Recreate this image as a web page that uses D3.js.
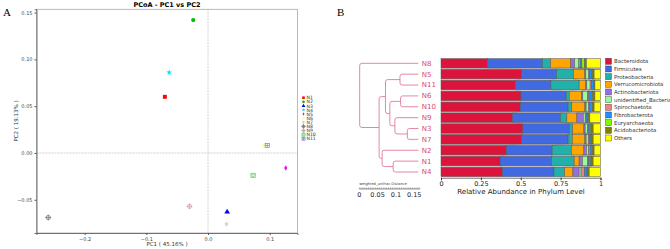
<!DOCTYPE html>
<html>
<head>
<meta charset="utf-8">
<script src="https://cdn.jsdelivr.net/npm/d3@7"></script>
<style>
  body { margin: 0; background: #fff; }
  text { font-family: "DejaVu Sans", sans-serif; }
</style>
</head>
<body>
<div id="chart"></div>
<script>
// ---- panel A data (PCoA) ----
const pcoaSamples = ["N1", "N2", "N3", "N4", "N5", "N6", "N7", "N8", "N9", "N10", "N11"];
const pc1 = [-0.070, -0.024, 0.031, -0.063, 0.126, 0.091, 0.030, -0.259, -0.030, 0.073, 0.096];
const pc2 = [0.060, 0.142, -0.063, 0.086, -0.016, 0.008, -0.076, -0.069, -0.057, -0.024, 0.008];
const pcoaColors = ["#ff0000", "#00c000", "#0000ff", "#00e5ee", "#ff00ff", "#ffff99", "#c8c8c8", "#555555", "#cd8c95", "#32cd32", "#6b6bd6"];
const xTicksA = [-0.2, -0.1, 0.0, 0.1];
const yTicksA = [-0.05, 0.00, 0.05, 0.10, 0.15];

// ---- panel B data (phylum abundance), rows in dendrogram order ----
const barSamples = ["N8", "N5", "N11", "N6", "N10", "N9", "N3", "N7", "N2", "N1", "N4"];
const phyla = ["Bacteroidota", "Firmicutes", "Proteobacteria", "Verrucomicrobiota", "Actinobacteriota",
  "unidentified_Bacteria", "Spirochaetota", "Fibrobacterota", "Euryarchaeota", "Acidobacteriota", "Others"];
const phylaColors = ["#dc143c", "#4169e1", "#20b2aa", "#ffa500", "#9370db", "#98fb98", "#f08080", "#1e90ff", "#7cfc00", "#808000", "#ffff00"];
const bacteroidota      = [0.290, 0.505, 0.466, 0.501, 0.497, 0.449, 0.513, 0.505, 0.409, 0.370, 0.385];
const firmicutes        = [0.345, 0.219, 0.223, 0.284, 0.300, 0.300, 0.292, 0.292, 0.288, 0.323, 0.323];
const proteobacteria    = [0.052, 0.107, 0.177, 0.019, 0.023, 0.040, 0.020, 0.026, 0.121, 0.142, 0.067];
const verrucomicrobiota = [0.127, 0.071, 0.042, 0.077, 0.082, 0.063, 0.071, 0.079, 0.078, 0.031, 0.052];
const actinobacteriota  = [0.024, 0.006, 0.006, 0.008, 0.008, 0.040, 0.008, 0.008, 0.016, 0.021, 0.039];
const unidentifiedBact  = [0.026, 0.018, 0.021, 0.030, 0.014, 0.012, 0.014, 0.013, 0.013, 0.032, 0.012];
const spirochaetota     = [0.009, 0.006, 0.008, 0.008, 0.006, 0.006, 0.006, 0.006, 0.010, 0.007, 0.022];
const fibrobacterota    = [0.010, 0.014, 0.012, 0.017, 0.012, 0.010, 0.014, 0.011, 0.009, 0.013, 0.016];
const euryarchaeota     = [0.017, 0.005, 0.004, 0.006, 0.006, 0.006, 0.006, 0.005, 0.005, 0.004, 0.004];
const acidobacteriota   = [0.012, 0.009, 0.006, 0.015, 0.012, 0.007, 0.010, 0.009, 0.011, 0.011, 0.009];
const others            = [0.088, 0.040, 0.035, 0.035, 0.040, 0.067, 0.046, 0.046, 0.040, 0.046, 0.071];
const phylaValues = [bacteroidota, firmicutes, proteobacteria, verrucomicrobiota, actinobacteriota,
  unidentifiedBact, spirochaetota, fibrobacterota, euryarchaeota, acidobacteriota, others];
const xTicksB = [0, 0.25, 0.5, 0.75, 1];

// dendrogram merges: [node, height, child1, child2]
const merges = [
  ["root", 0.160, "N8", "AB"],
  ["AB", 0.107, "A", "B"],
  ["A", 0.0896, "N5N11", "A2"],
  ["N5N11", 0.050, "N5", "N11"],
  ["A2", 0.0777, "N6N10", "N9g"],
  ["N6N10", 0.0485, "N6", "N10"],
  ["N9g", 0.064, "N9", "N3N7"],
  ["N3N7", 0.030, "N3", "N7"],
  ["B", 0.0987, "N2", "N1N4"],
  ["N1N4", 0.0686, "N1", "N4"]
];
const distTicks = [0, 0.05, 0.1, 0.15];

const svg = d3.select("#chart").append("svg")
  .attr("width", 670)
  .attr("height", 249)
  .style("background", "#fff");

// ================= Panel A =================
const xA = d3.scaleLinear().domain([-0.278, 0.145]).range([36.5, 297.5]);
const yA = d3.scaleLinear().domain([-0.0855, 0.1535]).range([233, 9.3]);

svg.append("text").attr("x", 3).attr("y", 16).text("A")
  .style("font-family", "'Liberation Serif', serif").style("font-size", "11px");

svg.append("rect")
  .attr("x", xA.range()[0]).attr("y", yA.range()[1])
  .attr("width", xA.range()[1] - xA.range()[0])
  .attr("height", yA.range()[0] - yA.range()[1])
  .attr("fill", "none").attr("stroke", "#aaa").attr("stroke-width", 0.8);

// dashed zero lines
svg.append("line")
  .attr("x1", xA(0)).attr("x2", xA(0)).attr("y1", yA.range()[1]).attr("y2", yA.range()[0])
  .attr("stroke", "#bbb").attr("stroke-width", 0.7).attr("stroke-dasharray", "2,1");
svg.append("line")
  .attr("x1", xA.range()[0]).attr("x2", xA.range()[1]).attr("y1", yA(0)).attr("y2", yA(0))
  .attr("stroke", "#bbb").attr("stroke-width", 0.7).attr("stroke-dasharray", "2,1");

const axA1 = svg.append("g")
  .attr("transform", `translate(0,${yA.range()[0]})`)
  .call(d3.axisBottom(xA).tickValues(xTicksA).tickFormat(d3.format(".1f")).tickSize(2).tickPadding(2));
const axA2 = svg.append("g")
  .attr("transform", `translate(${xA.range()[0]},0)`)
  .call(d3.axisLeft(yA).tickValues(yTicksA).tickFormat(d3.format(".2f")).tickSize(2).tickPadding(2));
[axA1, axA2].forEach(g => {
  g.select(".domain").attr("stroke", "#555").attr("stroke-width", 0.8);
  g.selectAll(".tick line").attr("stroke", "#555");
  g.selectAll(".tick text").style("font-size", "5px").attr("fill", "#444");
});

svg.append("text").attr("x", 167).attr("y", 7).attr("text-anchor", "middle")
  .style("font-size", "6.5px").style("font-weight", "bold").text("PCoA - PC1 vs PC2");
svg.append("text").attr("x", 167).attr("y", 246).attr("text-anchor", "middle")
  .style("font-size", "5.5px").attr("fill", "#333").text("PC1 ( 45.16% )");
svg.append("text").attr("transform", "translate(18,121) rotate(-90)").attr("text-anchor", "middle")
  .style("font-size", "5.5px").attr("fill", "#333").text("PC2 ( 19.13% )");

// marker drawing by sample index
function drawMarker(g, i, s) {
  const c = pcoaColors[i];
  const sym = (type, size) => d3.symbol().type(type).size(size)();
  if (i === 0) g.append("path").attr("d", sym(d3.symbolSquare, s * 1.1)).attr("fill", c);
  else if (i === 1) g.append("path").attr("d", sym(d3.symbolCircle, s)).attr("fill", c);
  else if (i === 2) g.append("path").attr("d", sym(d3.symbolTriangle, s)).attr("fill", c);
  else if (i === 3) g.append("path").attr("d", sym(d3.symbolStar, s * 0.8)).attr("fill", c);
  else if (i === 4) g.append("path").attr("d", sym(d3.symbolDiamond, s * 0.6)).attr("fill", c);
  else if (i === 5) g.append("path").attr("d", sym(d3.symbolSquare, s * 1.1)).attr("fill", c);
  else if (i === 6) g.append("path").attr("d", sym(d3.symbolAsterisk || d3.symbolCross, s))
    .attr("fill", "none").attr("stroke", c).attr("stroke-width", 0.8);
  else if (i === 7 || i === 8) {
    const r = Math.sqrt(s / Math.PI);
    g.append("circle").attr("r", r).attr("fill", "none").attr("stroke", c).attr("stroke-width", 0.6);
    g.append("path").attr("d", `M${-r - 0.8},0H${r + 0.8}M0,${-r - 0.8}V${r + 0.8}`).attr("stroke", c).attr("stroke-width", 0.6);
  } else if (i === 9) {
    const h = Math.sqrt(s) / 2 + 0.3;
    g.append("rect").attr("x", -h).attr("y", -h).attr("width", 2 * h).attr("height", 2 * h)
      .attr("fill", "none").attr("stroke", c).attr("stroke-width", 0.6);
    g.append("circle").attr("r", h * 0.6).attr("fill", "none").attr("stroke", c).attr("stroke-width", 0.6);
  } else {
    const h = Math.sqrt(s) / 2 + 0.3;
    g.append("rect").attr("x", -h).attr("y", -h).attr("width", 2 * h).attr("height", 2 * h)
      .attr("fill", "none").attr("stroke", c).attr("stroke-width", 0.6);
    g.append("path").attr("d", `M${-h},0H${h}M0,${-h}V${h}`).attr("stroke", c).attr("stroke-width", 0.6);
  }
}

pcoaSamples.forEach((name, i) => {
  const g = svg.append("g").attr("transform", `translate(${xA(pc1[i])},${yA(pc2[i])})`);
  drawMarker(g, i, 14);
});

// legend A
pcoaSamples.forEach((name, i) => {
  const ly = 97.7 + i * 4.1;
  const g = svg.append("g").attr("transform", `translate(303.5,${ly})`);
  drawMarker(g, i, 6);
  svg.append("text").attr("x", 306.5).attr("y", ly).attr("dy", "0.35em")
    .style("font-size", "4.6px").attr("fill", "#333").text(name);
});

// ================= Panel B =================
svg.append("text").attr("x", 337).attr("y", 16).text("B")
  .style("font-family", "'Liberation Serif', serif").style("font-size", "11px");

const xB = d3.scaleLinear().domain([0, 1]).range([441, 600.5]);
const yB = d3.scaleBand().domain(barSamples).range([58.3, 177]).paddingInner(0.14).paddingOuter(0.03);

// stacked segments per sample
const stacked = barSamples.map((s, si) => {
  let acc = 0;
  return phyla.map((p, pi) => {
    const v = phylaValues[pi][si];
    const seg = { sample: s, phylum: p, idx: pi, x0: acc, x1: acc + v };
    acc += v;
    return seg;
  });
});

// grey connectors between neighbouring bars
const bw = yB.bandwidth();
for (let si = 0; si < barSamples.length - 1; si++) {
  const yTop = yB(barSamples[si]) + bw;
  const yBot = yB(barSamples[si + 1]);
  stacked[si].forEach((seg, pi) => {
    const nxt = stacked[si + 1][pi];
    svg.append("path")
      .attr("d", `M${xB(seg.x0)},${yTop}L${xB(seg.x1)},${yTop}L${xB(nxt.x1)},${yBot}L${xB(nxt.x0)},${yBot}Z`)
      .attr("fill", "#d4d4d4").attr("stroke", "#8a8a8a").attr("stroke-width", 0.4);
  });
}

svg.selectAll("g.barrow")
  .data(stacked)
  .join("g")
    .attr("class", "barrow")
  .selectAll("rect")
  .data(d => d)
  .join("rect")
    .attr("x", d => xB(d.x0))
    .attr("y", d => yB(d.sample))
    .attr("width", d => xB(d.x1) - xB(d.x0))
    .attr("height", bw)
    .attr("fill", d => phylaColors[d.idx])
    .attr("stroke", "#555")
    .attr("stroke-width", 0.5);

const axB = svg.append("g")
  .attr("transform", `translate(0,${yB.range()[1] + 0.7})`)
  .call(d3.axisBottom(xB).tickValues(xTicksB).tickFormat(d => d3.format("")(d)).tickSize(2.5).tickPadding(1.5));
axB.select(".domain").attr("stroke", "#333").attr("stroke-width", 0.7);
axB.selectAll(".tick line").attr("stroke", "#333");
axB.selectAll(".tick text").style("font-size", "6.5px").attr("fill", "#222");

svg.append("text").attr("x", 521).attr("y", 194).attr("text-anchor", "middle")
  .style("font-size", "7px").attr("fill", "#222").text("Relative Abundance in Phylum Level");

// legend B
phyla.forEach((p, i) => {
  const ly = 61.3 + i * 7.67;
  svg.append("rect").attr("x", 605.5).attr("y", ly - 3).attr("width", 6).attr("height", 6)
    .attr("fill", phylaColors[i]).attr("stroke", "#333").attr("stroke-width", 0.4);
  svg.append("text").attr("x", 614).attr("y", ly).attr("dy", "0.35em")
    .style("font-size", "5.4px").attr("fill", "#333").text(p);
});

// dendrogram
const distScale = d3.scaleLinear().domain([0, 0.16]).range([0, 58.6]);
const leafX = 418.3;
const mergeMap = new Map(merges.map(m => [m[0], m]));
function buildNode(name) {
  const m = mergeMap.get(name);
  if (!m) return { name, height: 0 };
  return { name, height: m[1], children: [buildNode(m[2]), buildNode(m[3])] };
}
const root = d3.hierarchy(buildNode("root"));
root.eachAfter(n => {
  n.px = leafX - distScale(n.data.height);
  n.py = n.children ? d3.mean(n.children, c => c.py) : yB(n.data.name) + bw / 2;
});
const treeColor = "#e07b97";
const rr = 2.2;
root.links().forEach(l => {
  const px = l.source.px, py = l.source.py, cx = l.target.px, cy = l.target.py;
  const dir = cy < py ? -1 : 1;
  svg.append("path")
    .attr("d", `M${px},${py}V${cy - dir * rr}Q${px},${cy} ${px + rr},${cy}H${cx}`)
    .attr("fill", "none").attr("stroke", treeColor).attr("stroke-width", 0.9);
});
root.leaves().forEach(n => {
  svg.append("text").attr("x", leafX + 3.5).attr("y", n.py).attr("dy", "0.35em")
    .style("font-size", "7px").attr("fill", "#d9476d").text(n.data.name);
});

// distance ruler
const rulerX = 359.3, rulerY = 189;
svg.append("text").attr("x", rulerX).attr("y", 184.5)
  .style("font-size", "3.6px").attr("fill", "#444").text("weighted_unifrac Distance");
svg.append("line").attr("x1", rulerX).attr("x2", rulerX + distScale(0.165))
  .attr("y1", rulerY).attr("y2", rulerY).attr("stroke", "#333").attr("stroke-width", 0.5);
d3.range(0, 0.1651, 0.005).forEach(v => {
  svg.append("line").attr("x1", rulerX + distScale(v)).attr("x2", rulerX + distScale(v))
    .attr("y1", rulerY).attr("y2", rulerY - 1.5).attr("stroke", "#333").attr("stroke-width", 0.4);
});
distTicks.forEach(v => {
  svg.append("text").attr("x", rulerX + distScale(v)).attr("y", 196.5).attr("text-anchor", "middle")
    .style("font-size", "6.5px").attr("fill", "#222").text(d3.format("")(v));
});
</script>
</body>
</html>
